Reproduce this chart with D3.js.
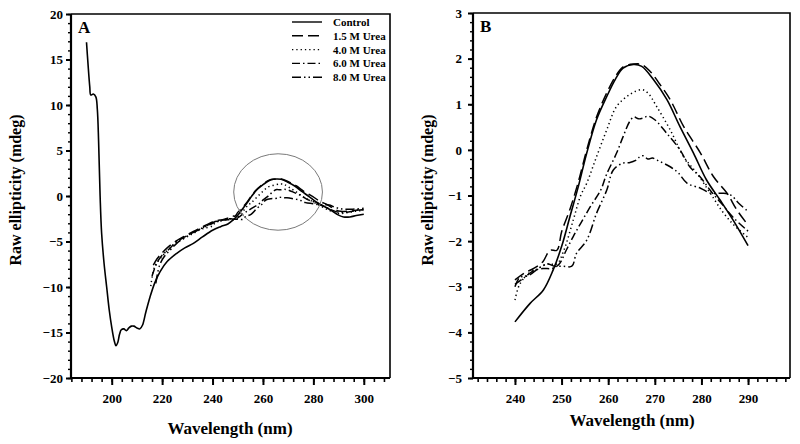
<!DOCTYPE html>
<html>
<head>
<meta charset="utf-8">
<script src="https://cdn.jsdelivr.net/npm/d3@7"></script>
<style>
  html, body { margin: 0; padding: 0; background: #fff; }
  svg { display: block; }
  text { font-family: "Liberation Serif", "Times New Roman", serif; font-weight: bold; fill: #000; }
</style>
</head>
<body>
<svg id="chart" width="800" height="444"></svg>
<script>
// ---------------- DATA ----------------
const seriesNames = ["Control", "1.5 M Urea", "4.0 M Urea", "6.0 M Urea", "8.0 M Urea"];

// [wavelength (nm), raw ellipticity (mdeg)]
const control = [
  [190,16.9],[190.6,14.5],[191.3,12],[191.7,11.1],[192.7,11.2],[193.7,10.9],[194.3,9.5],[194.8,6],
  [195.4,0],[196,-4.1],[197,-7.5],[198,-10],[199,-12.5],[200,-14.4],[201,-15.9],[201.7,-16.45],
  [202.4,-16.1],[203.1,-15.2],[203.8,-14.7],[204.8,-14.6],[205.8,-14.8],[206.8,-14.5],[207.8,-14.3],
  [208.8,-14.3],[210,-14.5],[211.2,-14.6],[212.2,-14.2],[213.5,-12.8],[215.2,-11.1],[217,-9.6],
  [219.2,-8.3],[222,-7.2],[225.8,-6.3],[229,-5.7],[232.4,-5.2],[236,-4.5],[240,-3.77],[243.2,-3.37],
  [246.1,-3.07],[248.2,-2.63],[250,-2.12],[251.8,-1.46],[253.6,-0.8],[255.4,-0.07],[257.5,0.66],
  [259.7,1.17],[261.5,1.54],[263.2,1.79],[265.4,1.87],[267.2,1.83],[269.7,1.54],[272.6,1.10],
  [275.4,0.51],[278.3,-0.07],[281.1,-0.66],[284,-1.1],[286.8,-1.54],[290,-2.1],[292,-2.3],
  [294.5,-2.3],[297,-2.15],[300,-2.0]
];
const urea15 = [
  [216.5,-7.6],[218,-6.9],[219.5,-6.4],[222,-5.7],[225.8,-4.9],[229,-4.4],[232.4,-3.9],[236,-3.4],
  [240,-2.85],[242,-2.7],[244,-2.6],[246,-2.45],[247.5,-2.2],[249,-2.2],[250,-1.8],[251.8,-1.3],
  [253.6,-0.7],[255.4,0.0],[257.5,0.72],[259.7,1.25],[261.5,1.6],[263.2,1.82],[265.4,1.88],
  [267.2,1.87],[269,1.72],[271,1.45],[273.3,1.1],[276.2,0.51],[279.8,-0.07],[282.6,-0.59],
  [285.5,-0.95],[287.5,-1.3],[290,-1.65],[292,-1.7],[295,-1.65],[297.5,-1.55],[300,-1.5]
];
const urea40 = [
  [215.5,-9.9],[217,-7.8],[219.2,-6.9],[222,-6.0],[225.8,-5.1],[229,-4.6],[232.4,-4.1],[236,-3.6],
  [240,-3.29],[241,-2.95],[243,-2.7],[245,-2.6],[247,-2.5],[249,-2.5],[250.5,-2.2],[252.5,-1.54],
  [254.1,-1.0],[255.4,-0.73],[257.5,-0.15],[259.7,0.44],[261.8,0.95],[264.6,1.21],[267.2,1.32],
  [268.5,1.25],[270.4,0.95],[273.3,0.44],[276.2,-0.15],[279,-0.51],[281.9,-0.95],[284.5,-1.35],
  [287,-1.65],[290,-1.92],[292,-1.9],[295,-1.75],[297.5,-1.65],[300,-1.6]
];
const urea60 = [
  [216,-8.8],[218,-7.3],[220,-6.5],[222.5,-5.9],[225.8,-5.0],[229,-4.5],[232.4,-4.0],[236,-3.5],
  [240,-2.95],[242,-2.8],[244,-2.65],[246,-2.6],[248,-2.6],[249.5,-2.5],[251,-2.2],[252.5,-1.9],
  [254.1,-1.61],[256.2,-1.24],[258.4,-0.88],[259.6,-0.55],[261.8,-0.07],[263.2,0.29],[264.6,0.62],
  [265.5,0.72],[266.5,0.68],[267.6,0.70],[268.5,0.74],[270,0.66],[272.5,0.37],[275.4,0.0],
  [277.5,-0.37],[279.7,-0.59],[282,-0.9],[284.5,-1.2],[287,-1.5],[290,-1.78],[292,-1.8],
  [295,-1.7],[297.5,-1.55],[300,-1.5]
];
const urea80 = [
  [217.5,-9.6],[219,-7.6],[221,-6.6],[223,-6.0],[225.8,-5.2],[229,-4.6],[232.4,-4.0],[236,-3.5],
  [240,-3.0],[241,-2.8],[243,-2.75],[245,-2.6],[247,-2.5],[248.5,-2.55],[250.3,-2.55],[252.2,-2.55],
  [253.2,-2.27],[255.4,-1.98],[257.5,-1.39],[259.7,-0.88],[261.1,-0.44],[263.2,-0.29],[264.5,-0.28],
  [266.1,-0.22],[266.8,-0.15],[267.6,-0.13],[268.5,-0.2],[269.5,-0.18],[271,-0.25],[273.3,-0.37],
  [275,-0.5],[276.9,-0.73],[279.8,-0.84],[282,-0.95],[284.5,-0.95],[286.3,-0.99],[288,-1.17],
  [290,-1.35],[292,-1.45],[295,-1.45],[297.5,-1.4],[300,-1.35]
];
const seriesData = [control, urea15, urea40, urea60, urea80];

// tick labels
const ticksAX = [200, 220, 240, 260, 280, 300];
const ticksAY = [-20, -15, -10, -5, 0, 5, 10, 15, 20];
const ticksBX = [240, 250, 260, 270, 280, 290];
const ticksBY = [-5, -4, -3, -2, -1, 0, 1, 2, 3];
const rangeB = [240, 290];            // wavelength window shown in panel B
const highlight = {cx: 266, cy: 0.44, rx: 17.6, ry: 4.2}; // encircled region in panel A (data units)

// ---------------- STYLE ----------------
const dashes = [null, "11,5", "1.3,3", "8,3,1.5,3", "9,3,1.5,3,1.5,3"];
const svg = d3.select("#chart");
svg.append("rect").attr("width", 800).attr("height", 444).attr("fill", "#fff");

function panel(opts) {
  const {x0, x1, y0, y1, xDom, yDom, xTicks, yTicks, xMinorStep, yMinorStep, yPad, label, data} = opts;
  const x = d3.scaleLinear().domain(xDom).range([x0, x1]);
  const y = d3.scaleLinear().domain(yDom).range([y1, y0]);
  const g = svg.append("g");

  // frame (top/right)
  g.append("path")
    .attr("d", `M${x0},${y0}H${x1}V${y1}`)
    .attr("fill", "none").attr("stroke", "#000").attr("stroke-width", 1.6);

  // minor ticks
  const xMinor = d3.range(Math.ceil(xDom[0] / xMinorStep) * xMinorStep, xDom[1] + 1e-9, xMinorStep);
  const yMinor = d3.range(Math.ceil(yDom[0] / yMinorStep - 1e-9) * yMinorStep, yDom[1] + 1e-9, yMinorStep);
  g.append("g").attr("transform", `translate(0,${y1})`)
    .call(d3.axisBottom(x).tickValues(xMinor).tickSize(4).tickSizeOuter(0).tickFormat(""))
    .call(s => s.select(".domain").remove())
    .selectAll("line").attr("stroke-width", 1.6);
  g.append("g").attr("transform", `translate(${x0},0)`)
    .call(d3.axisLeft(y).tickValues(yMinor).tickSize(3).tickSizeOuter(0).tickFormat(""))
    .call(s => s.select(".domain").remove())
    .selectAll("line").attr("stroke-width", 1.4);

  // major axes
  const ax = g.append("g").attr("transform", `translate(0,${y1})`)
    .call(d3.axisBottom(x).tickValues(xTicks).tickSize(7).tickSizeOuter(0).tickPadding(9).tickFormat(d3.format("d")));
  const ay = g.append("g").attr("transform", `translate(${x0},0)`)
    .call(d3.axisLeft(y).tickValues(yTicks).tickSize(5).tickSizeOuter(0).tickPadding(yPad).tickFormat(d3.format("d")));
  [ax, ay].forEach(a => {
    a.select(".domain").attr("stroke-width", 2.2);
    a.selectAll("line").attr("stroke-width", 2);
    a.selectAll("text").style("font-family", '"Liberation Serif", serif').style("font-weight", "bold").style("font-size", "13px");
  });
  // extend domain lines exactly to corners
  ax.select(".domain").attr("d", `M${x0 - 1},0H${x1}`);
  ay.select(".domain").attr("d", `M0,${y0}V${y1 + 1}`);

  // lines
  const line = d3.line().x(d => x(d[0])).y(d => y(d[1])).curve(d3.curveCatmullRom.alpha(0.5));
  const clipId = "clip" + label;
  svg.append("clipPath").attr("id", clipId).append("rect")
    .attr("x", x0).attr("y", y0).attr("width", x1 - x0).attr("height", y1 - y0);
  const lg = g.append("g").attr("clip-path", `url(#${clipId})`);
  data.forEach((d, i) => {
    lg.append("path").datum(d)
      .attr("d", line)
      .attr("fill", "none").attr("stroke", "#000")
      .attr("stroke-width", i === 0 ? 1.6 : 1.5)
      .attr("stroke-dasharray", dashes[i]);
  });

  // panel letter
  g.append("text").attr("x", x0 + 7).attr("y", y0 + 19).style("font-size", "17px").text(label);
  return {x, y, g};
}

// Panel A
const A = panel({
  x0: 71, x1: 390, y0: 14, y1: 378,
  xDom: [183.85, 310.4], yDom: [-20, 20],
  xTicks: ticksAX, yTicks: ticksAY, xMinorStep: 4, yMinorStep: 1, yPad: 3,
  label: "A", data: seriesData
});
// highlighted region
A.g.append("ellipse")
  .attr("cx", A.x(highlight.cx)).attr("cy", A.y(highlight.cy))
  .attr("rx", A.x(highlight.cx + highlight.rx) - A.x(highlight.cx))
  .attr("ry", A.y(highlight.cy - highlight.ry) - A.y(highlight.cy))
  .attr("fill", "none").attr("stroke", "#7a7a7a").attr("stroke-width", 1);

// legend
const leg = A.g.append("g");
seriesNames.forEach((n, i) => {
  const yy = 22 + i * 13.8;
  leg.append("line").attr("x1", 292).attr("x2", 322).attr("y1", yy).attr("y2", yy)
    .attr("stroke", "#000").attr("stroke-width", 1.4).attr("stroke-dasharray", dashes[i]);
  leg.append("text").attr("x", 333).attr("y", yy + 4).style("font-size", "11px").text(n);
});

// Panel B
const B = panel({
  x0: 473, x1: 790, y0: 13, y1: 378,
  xDom: [231, 299], yDom: [-5, 3],
  xTicks: ticksBX, yTicks: ticksBY, xMinorStep: 2, yMinorStep: 0.2, yPad: 6,
  label: "B", data: seriesData.map(s => s.filter(d => d[0] >= rangeB[0] && d[0] <= rangeB[1]))
});

// axis titles
svg.append("text").attr("x", 230).attr("y", 434).attr("text-anchor", "middle").style("font-size", "17px").text("Wavelength (nm)");
svg.append("text").attr("x", 632).attr("y", 426).attr("text-anchor", "middle").style("font-size", "17px").text("Wavelength (nm)");
svg.append("text").attr("transform", "translate(21,190) rotate(-90)").attr("text-anchor", "middle").style("font-size", "16px").text("Raw ellipticity (mdeg)");
svg.append("text").attr("transform", "translate(433,190) rotate(-90)").attr("text-anchor", "middle").style("font-size", "16px").text("Raw ellipticity (mdeg)");
</script>
</body>
</html>
